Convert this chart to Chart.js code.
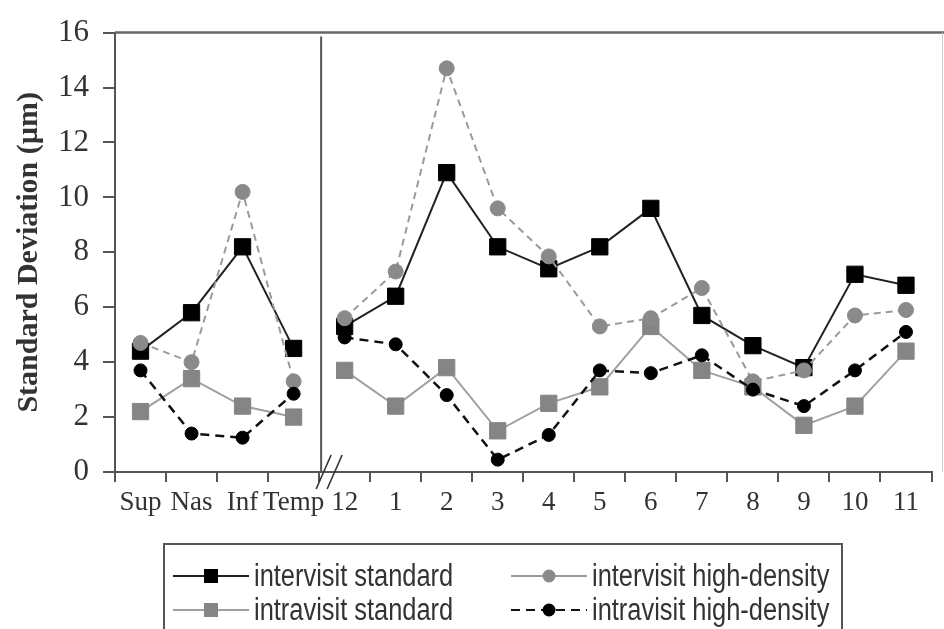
<!DOCTYPE html>
<html>
<head>
<meta charset="utf-8">
<script src="https://cdn.jsdelivr.net/npm/chart.js@4"></script>
<style>
  body { margin: 0; background: #fff; overflow: hidden; }
  #wrap { position: relative; width: 944px; height: 629px; overflow: hidden; }
  #legend {
    position: absolute; left: 163px; top: 543px; width: 680px; height: 86px;
    border: 2px solid #555; border-bottom: none; box-sizing: border-box;
    font-family: "Liberation Sans", Arial, sans-serif;
    font-size: 31px; color: #333;
  }
  .item { position: absolute; display: flex; align-items: center; height: 34px; white-space: nowrap; }
  .item svg { margin-right: 5px; flex: none; }
  .item span { display: inline-block; transform: scaleX(0.82); transform-origin: left center; }
</style>
</head>
<body>
<div id="wrap">
  <canvas id="myChart" width="944" height="629"></canvas>
  <div id="legend"></div>
</div>
<script>
const categories = ['Sup', 'Nas', 'Inf', 'Temp', '12', '1', '2', '3', '4', '5', '6', '7', '8', '9', '10', '11'];
const intervisitStandard = [4.4, 5.8, 8.2, 4.5, 5.3, 6.4, 10.9, 8.2, 7.4, 8.2, 9.6, 5.7, 4.6, 3.8, 7.2, 6.8];
const intervisitHighDensity = [4.7, 4.0, 10.2, 3.3, 5.6, 7.3, 14.7, 9.6, 7.85, 5.3, 5.6, 6.7, 3.3, 3.7, 5.7, 5.9];
const intravisitStandard = [2.2, 3.4, 2.4, 2.0, 3.7, 2.4, 3.8, 1.5, 2.5, 3.1, 5.3, 3.7, 3.1, 1.7, 2.4, 4.4];
const intravisitHighDensity = [3.7, 1.4, 1.25, 2.85, 4.9, 4.65, 2.8, 0.45, 1.35, 3.7, 3.6, 4.25, 3.0, 2.4, 3.7, 5.1];
const yTicks = [0, 2, 4, 6, 8, 10, 12, 14, 16];

// index of the last point before the axis break (Temp -> 12 is not joined)
const breakAfter = 3;

function series(label, data, color, fill, style, radius, dash, order) {
    return {
        label: label,
        data: data,
        borderColor: color,
        borderWidth: 2,
        borderDash: dash,
        backgroundColor: fill,
        pointBackgroundColor: fill,
        pointBorderColor: fill,
        pointStyle: style,
        pointRadius: radius,
        pointHoverRadius: radius,
        pointBorderWidth: 1,
        tension: 0,
        order: order,
        segment: {
            borderColor: ctx => ctx.p0DataIndex === breakAfter ? 'rgba(0,0,0,0)' : color
        }
    };
}

const datasets = [
    series('intervisit standard', intervisitStandard, '#222', '#000', 'rect', 11.5, [], 3),
    series('intervisit high-density', intervisitHighDensity, '#9a9a9a', '#8a8a8a', 'circle', 7.5, [7, 5], 2),
    series('intravisit standard', intravisitStandard, '#a0a0a0', '#858585', 'rect', 11.5, [], 4),
    series('intravisit high-density', intravisitHighDensity, '#111', '#000', 'circle', 6.5, [9, 6], 1)
];
datasets[3].borderWidth = 2.5;

const frame = {
    id: 'frame',
    afterDraw(chart) {
        const ctx = chart.ctx;
        const a = chart.chartArea;
        const x = chart.scales.x;
        ctx.save();
        // top border
        ctx.strokeStyle = '#666';
        ctx.lineWidth = 2.5;
        ctx.beginPath();
        ctx.moveTo(a.left, a.top);
        ctx.lineTo(944, a.top);
        ctx.stroke();
        // faint right border
        ctx.strokeStyle = '#ccc';
        ctx.lineWidth = 1;
        ctx.beginPath();
        ctx.moveTo(942.5, a.top);
        ctx.lineTo(942.5, a.bottom);
        ctx.stroke();
        // separator between the two groups
        const sx = x.getPixelForValue(breakAfter + 0.5) + 2;
        ctx.strokeStyle = '#555';
        ctx.lineWidth = 2;
        ctx.beginPath();
        ctx.moveTo(sx, a.top + 4);
        ctx.lineTo(sx, a.bottom);
        ctx.stroke();
        // axis break marks
        ctx.strokeStyle = '#333';
        ctx.lineWidth = 1.6;
        [0, 11].forEach(d => {
            ctx.beginPath();
            ctx.moveTo(sx - 5 + d, a.bottom + 17);
            ctx.lineTo(sx + 10 + d, a.bottom - 17);
            ctx.stroke();
        });
        ctx.restore();
    }
};

const serif = '"Liberation Serif", "Times New Roman", serif';
const ctx = document.getElementById('myChart').getContext('2d');
const myChart = new Chart(ctx, {
    type: 'line',
    data: { labels: categories, datasets: datasets },
    options: {
        responsive: false,
        animation: false,
        layout: { padding: { top: 20, right: 1, left: 0, bottom: 0 } },
        plugins: { legend: { display: false }, tooltip: { enabled: false } },
        scales: {
            x: {
                offset: true,
                grid: { offset: true, drawOnChartArea: false, tickLength: 10, color: '#555', lineWidth: 2 },
                border: { color: '#555', width: 2 },
                ticks: {
                    padding: 5,
                    color: '#333',
                    maxRotation: 0,
                    autoSkip: false,
                    font: { family: serif, size: 27 }
                },
                afterFit: s => { s.height = 629 - 472; }
            },
            y: {
                min: 0,
                max: 16,
                afterBuildTicks: s => { s.ticks = yTicks.map(v => ({ value: v })); },
                grid: { drawOnChartArea: false, tickLength: 12, color: '#555', lineWidth: 2 },
                border: { color: '#555', width: 2 },
                ticks: {
                    padding: 14,
                    color: '#333',
                    font: { family: serif, size: 31 }
                },
                title: {
                    display: true,
                    text: 'Standard Deviation (µm)',
                    color: '#333',
                    padding: { top: 11, bottom: 0 },
                    font: { family: serif, size: 30, weight: 'bold' }
                },
                afterFit: s => { s.width = 115; }
            }
        }
    },
    plugins: [frame]
});

// legend drawn as html below the plot
const legendPos = [
    { left: 8, top: 14 },
    { left: 346, top: 14 },
    { left: 8, top: 48 },
    { left: 346, top: 48 }
];
const legend = document.getElementById('legend');
datasets.forEach((d, i) => {
    const p = legendPos[i];
    const mark = d.pointStyle === 'rect'
        ? `<rect x="31" y="10" width="14" height="14" fill="${d.backgroundColor}"/>`
        : `<circle cx="38" cy="17" r="6.5" fill="${d.backgroundColor}"/>`;
    const dashAttr = i === 3 ? 'stroke-dasharray="9 6"' : '';
    const el = document.createElement('div');
    el.className = 'item';
    el.style.left = p.left + 'px';
    el.style.top = p.top + 'px';
    el.innerHTML = `<svg width="76" height="34"><line x1="0" y1="17" x2="76" y2="17" stroke="${d.borderColor}" stroke-width="2" ${dashAttr}/>${mark}</svg><span>${d.label}</span>`;
    legend.appendChild(el);
});
</script>
</body>
</html>
